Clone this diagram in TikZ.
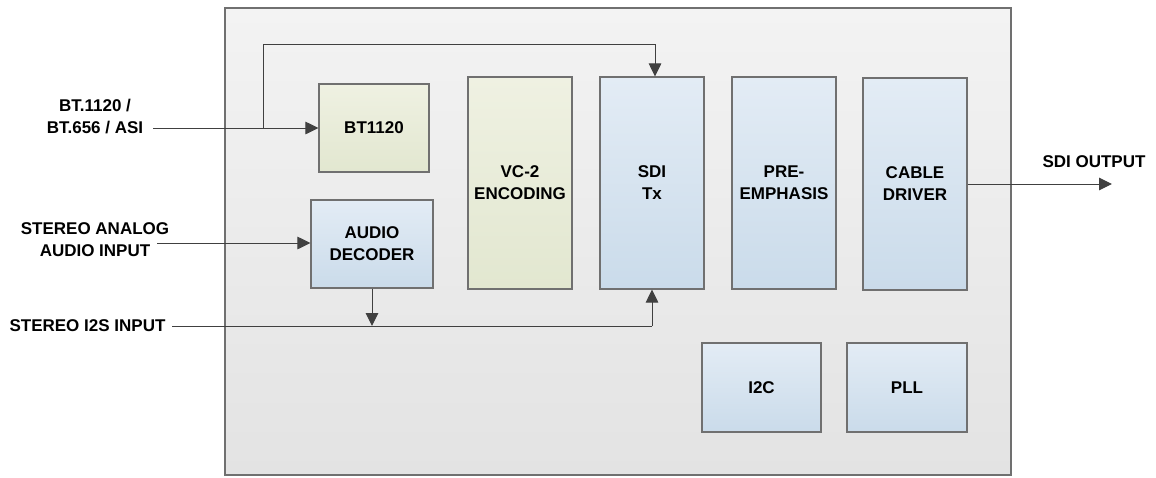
\documentclass[tikz,border=0pt]{standalone}
\usepackage{fontspec}
\setmainfont{Liberation Sans}
\usetikzlibrary{arrows.meta}
\definecolor{edge}{HTML}{707070}
\definecolor{wire}{HTML}{404040}
\definecolor{chiptop}{HTML}{F3F3F3}
\definecolor{chipbot}{HTML}{E3E3E3}
\definecolor{greentop}{HTML}{EFF1E2}
\definecolor{greenbot}{HTML}{E2E7D0}
\definecolor{bluetop}{HTML}{E3ECF5}
\definecolor{bluebot}{HTML}{CADBEA}
\begin{document}
\begin{tikzpicture}[x=1pt,y=-1pt,
  font=\fontsize{17}{22}\selectfont\bfseries,
  blk/.style={draw=edge,line width=1.1pt,rectangle,align=center,inner sep=0pt},
  greenblk/.style={blk,top color=greentop,bottom color=greenbot},
  blueblk/.style={blk,top color=bluetop,bottom color=bluebot},
  lbl/.style={align=center,inner sep=0pt},
  conn/.style={draw=wire,line width=1pt},
  arr/.style={conn,-{Triangle[length=13pt,width=12.5pt]}}]
\useasboundingbox (0,0) rectangle (1156,477);
\node[draw=edge,line width=1.1pt,top color=chiptop,bottom color=chipbot,minimum width=786pt,minimum height=467pt,inner sep=0pt] (chip) at (618,241.5) {};
\node[greenblk,minimum width=110pt,minimum height=88pt] (bt) at (374,128) {BT1120};
\node[blueblk,minimum width=122pt,minimum height=88pt] (audio) at (372,244) {AUDIO\\DECODER};
\node[greenblk,minimum width=104pt,minimum height=212pt] (vc2) at (520,183) {VC-2\\ENCODING};
\node[blueblk,minimum width=104pt,minimum height=212pt] (sditx) at (652,183) {SDI\\Tx};
\node[blueblk,minimum width=104pt,minimum height=212pt] (pre) at (784,183) {PRE-\\EMPHASIS};
\node[blueblk,minimum width=104pt,minimum height=212pt] (cable) at (915,184) {CABLE\\DRIVER};
\node[blueblk,minimum width=119pt,minimum height=89pt] (i2c) at (761.5,387.5) {I2C};
\node[blueblk,minimum width=120pt,minimum height=89pt] (pll) at (907,387.5) {PLL};
\node[lbl] (in1) at (95,117) {BT.1120 /\\BT.656 / ASI};
\node[lbl] (in2) at (95,240) {STEREO ANALOG\\AUDIO INPUT};
\node[lbl] (in3) at (87.5,326) {STEREO I2S INPUT};
\node[lbl] (out) at (1094,162) {SDI OUTPUT};
\coordinate (a1) at (153,128);
\coordinate (fb) at (263,128);
\coordinate (fbr) at (655,44);
\coordinate (a2) at (157,243);
\coordinate (a3) at (172,326);
\coordinate (i2sr) at (652,326);
\coordinate (outend) at (1112,184);
\draw[arr] (a1) -- (bt.west);
\draw[conn] (fb) |- (fbr);
\draw[arr] (fbr) -- (fbr |- sditx.north);
\draw[arr] (a2) -- (a2 -| audio.west);
\draw[conn] (a3) -- (i2sr);
\draw[arr] (i2sr) -- (sditx.south);
\draw[arr] (audio.south) -- (audio.south |- a3);
\draw[arr] (cable.east) -- (outend);
\end{tikzpicture}
\end{document}
